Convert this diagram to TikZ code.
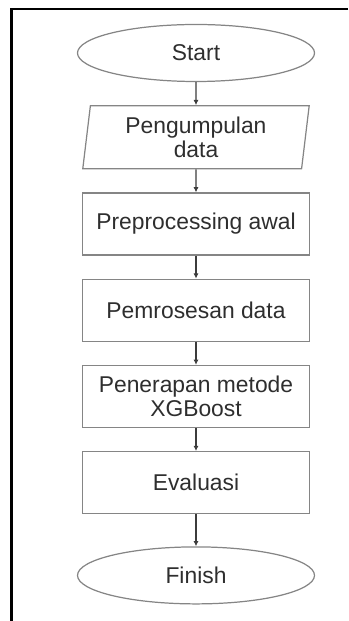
\documentclass[tikz,border=0pt]{standalone}
\usepackage{fontspec}
\setmainfont{Liberation Sans}
\usepackage{tikz}
\usetikzlibrary{arrows.meta,positioning,shapes.geometric}
\definecolor{edgegray}{HTML}{858585}
\definecolor{arrowgray}{HTML}{3C3C3C}
\definecolor{textgray}{HTML}{2E2E2E}
\newcommand{\flowfont}{\fontsize{13}{14}\selectfont}
\tikzset{
  termbox/.style={
    ellipse, draw=edgegray, line width=0.7pt,
    minimum width=4.74cm, minimum height=1.14cm,
    font=\flowfont, text=textgray, inner sep=0pt
  },
  iobox/.style={
    trapezium, trapezium left angle=83, trapezium right angle=97,
    trapezium stretches=true, draw=edgegray, line width=0.7pt,
    minimum width=4.54cm, minimum height=1.26cm,
    font=\flowfont, text=textgray, align=center, inner sep=0pt
  },
  procbox/.style={
    rectangle, draw=edgegray, line width=0.7pt,
    minimum width=4.54cm, minimum height=1.24cm,
    font=\flowfont, text=textgray, align=center, inner sep=0pt
  },
  flowarrow/.style={
    -{Latex[length=3pt,width=3pt]}, line width=0.6pt, color=arrowgray
  },
  framebar/.style={
    draw=black, line width=1.4pt
  },
}
\begin{document}
\begin{tikzpicture}[node distance=0.46cm]
  \useasboundingbox (0,0) rectangle (6.96,-12.42);
  % frame round the chart (only top and left side show)
  \coordinate (frametr) at (6.96,-0.18);
  \coordinate (framebl) at (0.23,-12.42);
  \draw[framebar] (frametr) -| (framebl);

  % flow nodes
  \node[termbox] (start) at (3.92,-1.06) {Start};
  \node[iobox, below=of start] (collect) {Pengumpulan\\data};
  \node[procbox, below=of collect] (prep) {Preprocessing awal};
  \node[procbox, below=of prep] (proc) {Pemrosesan data};
  \node[procbox, below=of proc] (xgb) {Penerapan metode\\XGBoost};
  \node[procbox, below=of xgb] (eval) {Evaluasi};
  \node[termbox, below=0.64cm of eval] (finish) {Finish};

  % connectors
  \draw[flowarrow] (start) -- (collect);
  \draw[flowarrow] (collect) -- (prep);
  \draw[flowarrow] (prep) -- (proc);
  \draw[flowarrow] (proc) -- (xgb);
  \draw[flowarrow] (xgb) -- (eval);
  \draw[flowarrow] (eval) -- (finish);
\end{tikzpicture}
\end{document}
